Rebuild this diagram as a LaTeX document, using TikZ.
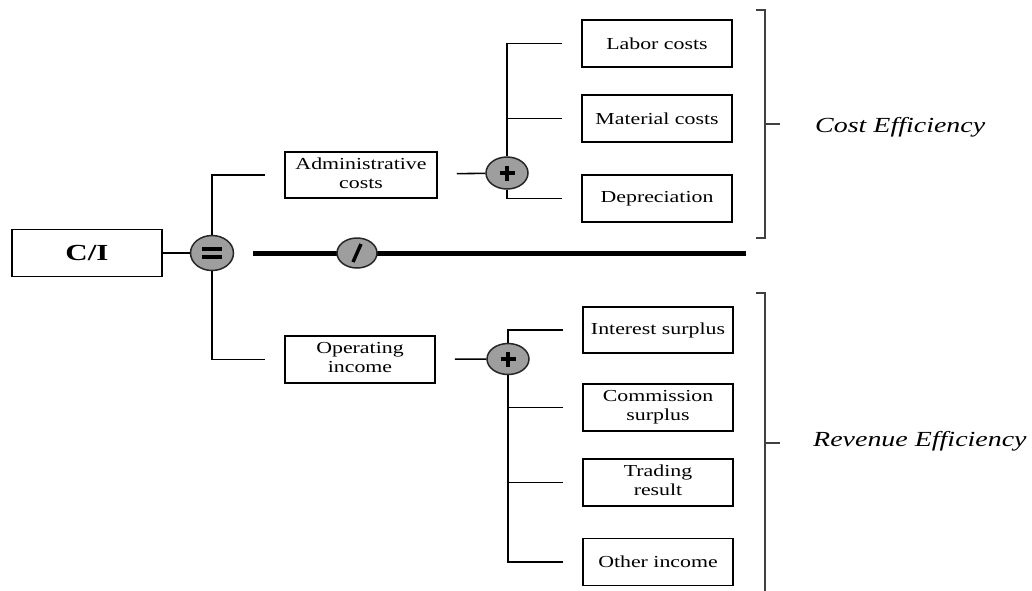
\documentclass[tikz,border=0pt]{standalone}
\usepackage{fontspec}
\setmainfont{Liberation Serif}
\usepackage{graphicx}
\usetikzlibrary{shapes.geometric}
\newcommand\hstr[2][1.3]{\scalebox{#1}[1]{#2}}
\newcommand\twol[2]{\hstr{\begin{tabular}{@{}c@{}}#1\\#2\end{tabular}}}

\begin{document}
\begin{tikzpicture}[x=1pt,y=-1pt,
  box/.style={draw, line width=1.5pt, minimum width=150pt, minimum height=47pt, inner sep=0pt, font=\fontsize{16.8}{19}\selectfont},
  op/.style={ellipse, draw=black!85, line width=1.5pt, fill=black!38, inner sep=0pt, minimum width=42pt, minimum height=31pt},
  conn/.style={line width=1.6pt},
  gapend/.style={shorten >=19pt},
  gapstart/.style={shorten <=19pt},
  sym/.style={line width=3.8pt},
  efflabel/.style={anchor=west, inner sep=0pt, font=\fontsize{21.5}{24}\selectfont\itshape},
  brk/.style={line width=1.3pt, draw=black!75}
]
\useasboundingbox (0,0) rectangle (1032,590);

% boxes
\node[box, font=\fontsize{23}{26}\selectfont\bfseries] (ci) at (87,253) {\hstr[1.35]{C/I}};
\node[box, minimum width=152pt, minimum height=46pt] (adm) at (361,175) {\twol{Administrative}{costs}};
\node[box] (lab) at (657,43.5) {\hstr{Labor costs}};
\node[box] (mat) at (657,118.5) {\hstr{Material costs}};
\node[box] (dep) at (657,198.5) {\hstr{Depreciation}};
\node[box] (opi) at (360,359.5) {\twol{Operating}{income}};
\node[box, minimum height=46pt] (int) at (658,330) {\hstr{Interest surplus}};
\node[box] (com) at (658,407.5) {\twol{Commission}{surplus}};
\node[box] (tra) at (658,482.5) {\twol{Trading}{result}};
\node[box] (oth) at (658,562) {\hstr{Other income}};

% operator ellipses
\node[op, minimum width=43pt, minimum height=35pt] (eq) at (212,253) {};
\node[op, minimum height=32pt] (p1) at (507,173) {};
\node[op, minimum height=31pt] (p2) at (508,359) {};
\coordinate (thickend) at (746,253);

% connectors
\draw[conn] (ci) -- (eq);
\draw[conn, gapend] (eq) |- (adm.west);
\draw[conn, gapend] (eq) |- (opi.west);
\draw[line width=5pt, gapstart] (eq.east) -- (thickend);
\node[op, minimum width=40pt, minimum height=30pt] (div) at (357,253) {};

\draw[conn, gapstart] (adm) -- (p1);
\draw[conn, gapend] (p1) |- (lab.west);
\draw[conn, gapend] (p1) |- (mat.west);
\draw[conn, gapend] (p1) |- (dep.west);

\draw[conn, gapstart] (opi) -- (p2);
\draw[conn, gapend] (p2) |- (int.west);
\draw[conn, gapend] (p2) |- (com.west);
\draw[conn, gapend] (p2) |- (tra.west);
\draw[conn, gapend] (p2) |- (oth.west);

% symbols
\draw[sym] ([xshift=-10pt,yshift=4pt]eq.center) -- ([xshift=10pt,yshift=4pt]eq.center);
\draw[sym] ([xshift=-10pt,yshift=-4pt]eq.center) -- ([xshift=10pt,yshift=-4pt]eq.center);
\draw[sym] ([xshift=-7.5pt]p1.center) -- ([xshift=7.5pt]p1.center);
\draw[sym] ([yshift=-7.5pt]p1.center) -- ([yshift=7.5pt]p1.center);
\draw[sym] ([xshift=-7.5pt]p2.center) -- ([xshift=7.5pt]p2.center);
\draw[sym] ([yshift=-7.5pt]p2.center) -- ([yshift=7.5pt]p2.center);
\draw[line width=3.4pt] ([xshift=-4pt,yshift=-9pt]div.center) -- ([xshift=4pt,yshift=9pt]div.center);

% brackets
\draw[brk] (756,10) -- (765,10) -- (765,238) -- (756,238);
\draw[brk] (765,124) -- (780,124);
\draw[brk] (756,293) -- (765,293) -- (765,592);
\draw[brk] (765,443) -- (780,443);

\node[efflabel] (cost) at (815,127) {\hstr[1.3]{Cost Efficiency}};
\node[efflabel] (rev) at (813,441) {\hstr[1.3]{Revenue Efficiency}};
\end{tikzpicture}
\end{document}
